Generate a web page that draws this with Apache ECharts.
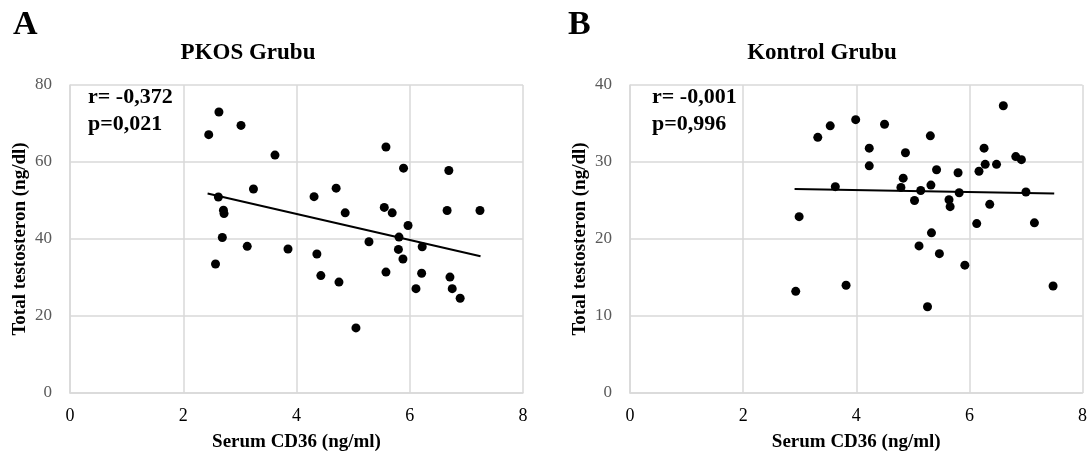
<!DOCTYPE html>
<html>
<head>
<meta charset="utf-8">
<style>
  html, body { margin: 0; padding: 0; background: #fff; }
  #chart { width: 1090px; height: 460px; }
</style>
<script src="https://cdn.jsdelivr.net/npm/echarts@6/dist/echarts.min.js"></script>
</head>
<body>
<div id="chart"></div>
<script>
// PKOS Grubu: [Serum CD36, Total testosteron]
const pkosPoints = [
  [2.63, 73.0], [3.02, 69.5], [2.45, 67.1], [3.62, 61.8], [3.24, 53.0],
  [2.62, 50.9], [2.71, 47.5], [2.72, 46.6], [2.69, 40.4], [3.13, 38.1],
  [3.85, 37.4], [2.57, 33.5], [4.31, 51.0], [4.70, 53.2], [4.36, 36.1],
  [4.43, 30.5], [4.75, 28.8], [5.58, 63.9], [5.89, 58.4], [6.69, 57.8],
  [4.86, 46.8], [5.55, 48.2], [5.69, 46.8], [6.66, 47.4], [7.24, 47.4],
  [5.97, 43.5], [5.81, 40.5], [5.28, 39.3], [5.80, 37.3], [6.22, 38.0],
  [5.88, 34.8], [5.58, 31.4], [6.21, 31.1], [6.11, 27.1], [6.71, 30.1],
  [6.75, 27.1], [6.89, 24.6], [5.05, 16.9]
];
const pkosTrend = [[2.43, 51.8], [7.25, 35.5]];

// Kontrol Grubu
const kontrolPoints = [
  [6.60, 37.3], [3.99, 35.5], [3.54, 34.7], [4.50, 34.9], [3.32, 33.2],
  [5.31, 33.4], [4.23, 31.8], [4.87, 31.2], [6.26, 31.8], [6.82, 30.7],
  [6.92, 30.3], [4.23, 29.5], [6.28, 29.7], [6.48, 29.7], [5.42, 29.0],
  [5.80, 28.6], [6.17, 28.8], [4.83, 27.9], [3.63, 26.8], [4.79, 26.7],
  [5.14, 26.3], [5.32, 27.0], [5.82, 26.0], [7.00, 26.1], [5.03, 25.0],
  [5.64, 25.1], [5.66, 24.2], [6.36, 24.5], [2.99, 22.9], [6.13, 22.0],
  [7.15, 22.1], [5.33, 20.8], [5.11, 19.1], [5.47, 18.1], [5.92, 16.6],
  [2.93, 13.2], [3.82, 14.0], [7.48, 13.9], [5.26, 11.2]
];
const kontrolTrend = [[2.91, 26.5], [7.50, 25.9]];

const panelTitles = ['PKOS Grubu', 'Kontrol Grubu'];
const panelLetters = ['A', 'B'];
const statTexts = ['r= -0,372\np=0,021', 'r= -0,001\np=0,996'];
const xName = 'Serum CD36 (ng/ml)';
const yName = 'Total testosteron (ng/dl)';

const serif = 'Liberation Serif';
const chart = echarts.init(document.getElementById('chart'));

function makeX(idx) {
  return {
    type: 'value', gridIndex: idx, min: 0, max: 8, interval: 2,
    name: xName, nameLocation: 'middle', nameGap: 40,
    nameTextStyle: { fontFamily: serif, fontWeight: 'bold', fontSize: 19, color: '#000' },
    axisLine: { show: true, lineStyle: { color: '#d9d9d9', width: 1.5 } },
    axisTick: { show: false },
    axisLabel: { fontFamily: serif, fontSize: 18, color: '#000', margin: 14 },
    splitLine: { show: true, lineStyle: { color: '#d9d9d9', width: 1.5 } }
  };
}
function makeY(idx, max, step) {
  return {
    type: 'value', gridIndex: idx, min: 0, max: max, interval: step,
    name: yName, nameLocation: 'middle', nameGap: 40,
    nameTextStyle: { fontFamily: serif, fontWeight: 'bold', fontSize: 19, color: '#000' },
    axisLine: { show: true, lineStyle: { color: '#d9d9d9', width: 1.5 } },
    axisTick: { show: false },
    axisLabel: { fontFamily: serif, fontSize: 17, color: '#595959', margin: 18 },
    splitLine: { show: true, lineStyle: { color: '#d9d9d9', width: 1.5 } }
  };
}

const option = {
  animation: false,
  title: [
    { text: panelLetters[0], left: 13, top: 8, padding: 0,
      textStyle: { fontFamily: serif, fontWeight: 'bold', fontSize: 34, color: '#000' } },
    { text: panelLetters[1], left: 568, top: 8, padding: 0,
      textStyle: { fontFamily: serif, fontWeight: 'bold', fontSize: 34, color: '#000' } },
    { text: panelTitles[0], left: 248, textAlign: 'center', top: 42, padding: 0,
      textStyle: { fontFamily: serif, fontWeight: 'bold', fontSize: 23, color: '#000' } },
    { text: panelTitles[1], left: 822, textAlign: 'center', top: 42, padding: 0,
      textStyle: { fontFamily: serif, fontWeight: 'bold', fontSize: 23, color: '#000' } },
    { text: statTexts[0], left: 88, top: 84, padding: 0,
      textStyle: { fontFamily: serif, fontWeight: 'bold', fontSize: 22, lineHeight: 27, color: '#000' } },
    { text: statTexts[1], left: 652, top: 84, padding: 0,
      textStyle: { fontFamily: serif, fontWeight: 'bold', fontSize: 22, lineHeight: 27, color: '#000' } }
  ],
  grid: [
    { left: 70, right: 567, top: 85, bottom: 67 },
    { left: 630, right: 7, top: 85, bottom: 67 }
  ],
  xAxis: [makeX(0), makeX(1)],
  yAxis: [makeY(0, 80, 20), makeY(1, 40, 10)],
  series: [
    { type: 'line', xAxisIndex: 0, yAxisIndex: 0, data: pkosTrend, symbol: 'none',
      lineStyle: { color: '#000', width: 2 }, z: 2 },
    { type: 'scatter', xAxisIndex: 0, yAxisIndex: 0, data: pkosPoints, symbolSize: 9,
      itemStyle: { color: '#000', opacity: 1 }, z: 3 },
    { type: 'line', xAxisIndex: 1, yAxisIndex: 1, data: kontrolTrend, symbol: 'none',
      lineStyle: { color: '#000', width: 2 }, z: 2 },
    { type: 'scatter', xAxisIndex: 1, yAxisIndex: 1, data: kontrolPoints, symbolSize: 9,
      itemStyle: { color: '#000', opacity: 1 }, z: 3 }
  ]
};
chart.setOption(option);
</script>
</body>
</html>
